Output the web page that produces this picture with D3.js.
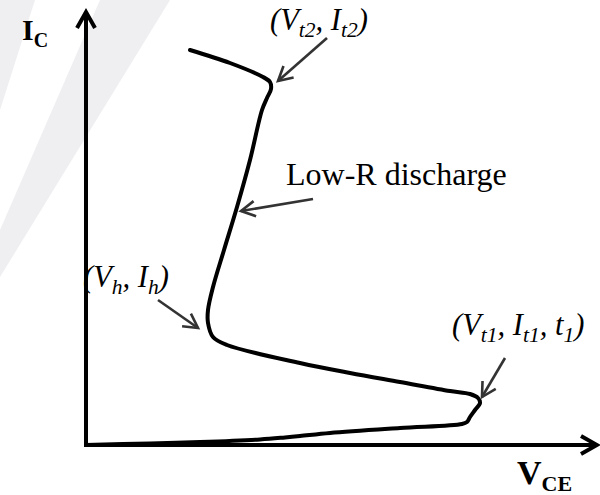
<!DOCTYPE html>
<html>
<head>
<meta charset="utf-8">
<script src="https://cdn.jsdelivr.net/npm/d3@7"></script>
<style>
  html, body { margin: 0; padding: 0; background: #fff; }
  svg { display: block; }
  text { font-family: "Liberation Serif", "Times New Roman", serif; fill: #000; }
</style>
</head>
<body>
<div id="chart"></div>
<script>
// ---- data (arbitrary units: V_CE on x, I_C on y) ----
const curveV = [0, 12.8, 22.8, 34.8, 39.8, 42.8, 48.8, 62.8, 75.2, 76.2, 76.8, 77.8, 78.8, 78.4, 76.8, 72.8, 62.8, 52.8, 42.8, 28.2, 25.4, 24.4, 24.4, 25.4, 27.6, 30.2, 32.8, 35.2, 36.2, 37.0, 36.8, 35.4, 28.8, 20.8];
const curveI = [0, 0.4, 0.75, 1.4, 1.9, 2.25, 3.0, 4.25, 5.25, 5.75, 7.0, 8.75, 10.5, 11.75, 12.75, 13.5, 15.75, 18.0, 20.5, 25.0, 27.0, 30.5, 33.75, 39.5, 48.75, 59.5, 71.25, 83.75, 86.75, 89.0, 90.75, 92.0, 95.5, 98.75];

// annotation arrows: [fromV, fromI, toV, toI]
const arrowNames = ["Vt2", "LowR", "Vh", "Vt1"];
const arrowFromV = [48.2, 45.4, 14.4, 83.8];
const arrowFromI = [101.75, 61.5, 36.25, 21.75];
const arrowToV = [38.4, 31.0, 22.4, 79.2];
const arrowToI = [91.0, 58.5, 29.25, 12.0];

// annotation labels (anchor in data units)
const labelV = [36.8, 40.0, -0.6, 73.2];
const labelI = [103.75, 65.0, 39.5, 27.5];
const labelParts = [
  [["(V", 0], ["t2", 1], [", I", 0], ["t2", 1], [")", 0]],
  [["Low-R discharge", 0]],
  [["(V", 0], ["h", 1], [", I", 0], ["h", 1], [")", 0]],
  [["(V", 0], ["t1", 1], [", I", 0], ["t1", 1], [", t", 0], ["1", 1], [")", 0]]
];
const labelItalic = [true, false, true, true];

const axisMaxV = 102.4;
const axisMaxI = 108.5;

// ---- drawing ----
const W = 600, H = 495;
const svg = d3.select("#chart").append("svg").attr("width", W).attr("height", H);

const x = d3.scaleLinear().domain([0, 100]).range([86, 586]);
const y = d3.scaleLinear().domain([0, 100]).range([445, 45]);

// faint background bands
const bg = svg.append("g").attr("fill", "#efeff2");
bg.append("polygon").attr("points", "0,0 35,0 0,110");
bg.append("polygon").attr("points", "100,0 170,0 0,277 0,230");

// axes with open arrowheads
const ax = svg.append("g").attr("stroke", "#000").attr("stroke-width", 4).attr("fill", "none")
  .attr("stroke-linecap", "butt").attr("stroke-linejoin", "miter");
ax.append("line").attr("x1", x(0)).attr("y1", y(0) + 2).attr("x2", x(0)).attr("y2", y(axisMaxI) + 2);
ax.append("line").attr("x1", x(0) - 2).attr("y1", y(0)).attr("x2", x(axisMaxV) - 2).attr("y2", y(0));
ax.append("path").attr("d", `M${x(0) - 9},${y(axisMaxI) + 17} L${x(0)},${y(axisMaxI) + 1} L${x(0) + 9},${y(axisMaxI) + 17}`);
ax.append("path").attr("d", `M${x(axisMaxV) - 17},${y(0) - 9} L${x(axisMaxV) - 1},${y(0)} L${x(axisMaxV) - 17},${y(0) + 9}`);

// I-V curve
const pts = curveV.map((v, i) => [v, curveI[i]]);
const line = d3.line().x(d => x(d[0])).y(d => y(d[1])).curve(d3.curveCatmullRom.alpha(0.5));
svg.append("path").attr("d", line(pts)).attr("fill", "none").attr("stroke", "#000")
  .attr("stroke-width", 4).attr("stroke-linecap", "round").attr("stroke-linejoin", "round");

// annotation arrows
const ag = svg.append("g").attr("stroke", "#333").attr("stroke-width", 2.6).attr("fill", "none")
  .attr("stroke-linecap", "butt").attr("stroke-linejoin", "miter");
arrowNames.forEach((n, i) => {
  const x1 = x(arrowFromV[i]), y1 = y(arrowFromI[i]);
  const x2 = x(arrowToV[i]), y2 = y(arrowToI[i]);
  ag.append("line").attr("x1", x1).attr("y1", y1).attr("x2", x2).attr("y2", y2);
  const a = Math.atan2(y1 - y2, x1 - x2), L = 16, s = 0.5;
  ag.append("path").attr("d",
    `M${x2 + L * Math.cos(a + s)},${y2 + L * Math.sin(a + s)} L${x2},${y2} L${x2 + L * Math.cos(a - s)},${y2 + L * Math.sin(a - s)}`);
});

// annotation labels
function addText(px, py, parts, size, subSize, italic, bold) {
  const t = svg.append("text").attr("x", px).attr("y", py).attr("font-size", size)
    .attr("font-style", italic ? "italic" : "normal").attr("font-weight", bold ? "bold" : "normal");
  let shifted = false;
  parts.forEach(([s, sub]) => {
    const ts = t.append("tspan").text(s);
    if (sub && !shifted) { ts.attr("dy", size * 0.22).attr("font-size", subSize); shifted = true; }
    else if (sub) { ts.attr("font-size", subSize); }
    else if (!sub && shifted) { ts.attr("dy", -size * 0.22); shifted = false; }
  });
  return t;
}
labelParts.forEach((p, i) => {
  if (labelItalic[i]) addText(x(labelV[i]), y(labelI[i]), p, 30.5, 21.5, true, false);
  else addText(x(labelV[i]), y(labelI[i]), p, 32, 20, false, false);
});

// axis titles
addText(22, 40, [["I", 0], ["C", 1]], 30, 20, false, true);
addText(517, 484, [["V", 0], ["CE", 1]], 34, 22, false, true);
</script>
</body>
</html>
